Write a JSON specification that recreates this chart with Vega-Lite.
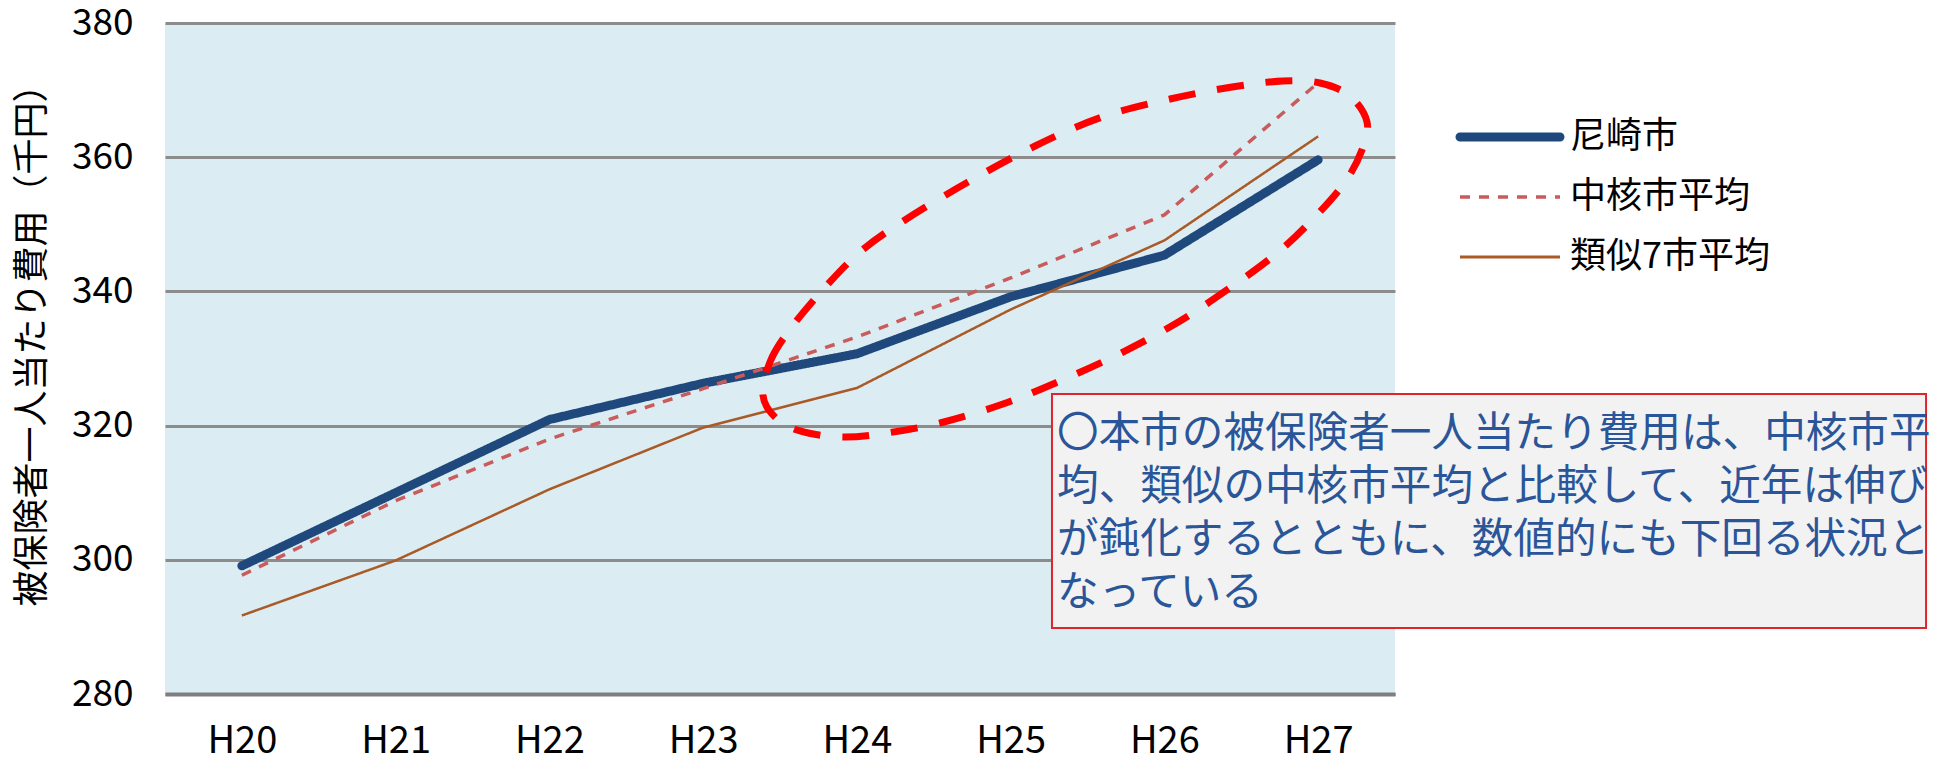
{
  "$schema": "https://vega.github.io/schema/vega-lite/v6.json",
  "width": 1230,
  "height": 671,
  "autosize": {"type": "none"},
  "padding": {"left": 165, "top": 23, "right": 549, "bottom": 68},
  "background": "white",
  "config": {
    "font": "Noto Sans CJK JP",
    "view": {"fill": "#DBEDF3", "stroke": null}
  },
  "datasets": {
    "cost": [
      {"年度": "H20", "系列": "尼崎市", "費用": 299.1},
      {"年度": "H21", "系列": "尼崎市", "費用": 310.0},
      {"年度": "H22", "系列": "尼崎市", "費用": 320.9},
      {"年度": "H23", "系列": "尼崎市", "費用": 326.3},
      {"年度": "H24", "系列": "尼崎市", "費用": 330.7},
      {"年度": "H25", "系列": "尼崎市", "費用": 339.2},
      {"年度": "H26", "系列": "尼崎市", "費用": 345.4},
      {"年度": "H27", "系列": "尼崎市", "費用": 359.6},
      {"年度": "H20", "系列": "中核市平均", "費用": 297.7},
      {"年度": "H21", "系列": "中核市平均", "費用": 308.8},
      {"年度": "H22", "系列": "中核市平均", "費用": 318.0},
      {"年度": "H23", "系列": "中核市平均", "費用": 325.5},
      {"年度": "H24", "系列": "中核市平均", "費用": 333.2},
      {"年度": "H25", "系列": "中核市平均", "費用": 342.0},
      {"年度": "H26", "系列": "中核市平均", "費用": 351.4},
      {"年度": "H27", "系列": "中核市平均", "費用": 371.1},
      {"年度": "H20", "系列": "類似7市平均", "費用": 291.7},
      {"年度": "H21", "系列": "類似7市平均", "費用": 299.9},
      {"年度": "H22", "系列": "類似7市平均", "費用": 310.5},
      {"年度": "H23", "系列": "類似7市平均", "費用": 319.7},
      {"年度": "H24", "系列": "類似7市平均", "費用": 325.6},
      {"年度": "H25", "系列": "類似7市平均", "費用": 337.3},
      {"年度": "H26", "系列": "類似7市平均", "費用": 347.6},
      {"年度": "H27", "系列": "類似7市平均", "費用": 363.1}
    ],
    "ellipse": [
      {"seq": 1, "pos": 3.389, "val": 324.56},
      {"seq": 2, "pos": 3.435, "val": 329.48},
      {"seq": 3, "pos": 3.552, "val": 333.95},
      {"seq": 4, "pos": 3.760, "val": 339.76},
      {"seq": 5, "pos": 4.020, "val": 345.87},
      {"seq": 6, "pos": 4.313, "val": 350.64},
      {"seq": 7, "pos": 4.723, "val": 356.30},
      {"seq": 8, "pos": 5.159, "val": 361.67},
      {"seq": 9, "pos": 5.594, "val": 365.99},
      {"seq": 10, "pos": 6.037, "val": 368.67},
      {"seq": 11, "pos": 6.440, "val": 370.46},
      {"seq": 12, "pos": 6.772, "val": 371.36},
      {"seq": 13, "pos": 7.012, "val": 371.06},
      {"seq": 14, "pos": 7.207, "val": 369.12},
      {"seq": 15, "pos": 7.318, "val": 365.25},
      {"seq": 16, "pos": 7.285, "val": 361.07},
      {"seq": 17, "pos": 7.175, "val": 356.30},
      {"seq": 18, "pos": 6.973, "val": 350.94},
      {"seq": 19, "pos": 6.733, "val": 345.72},
      {"seq": 20, "pos": 6.407, "val": 340.21},
      {"seq": 21, "pos": 6.069, "val": 335.14},
      {"seq": 22, "pos": 5.692, "val": 330.52},
      {"seq": 23, "pos": 5.321, "val": 326.65},
      {"seq": 24, "pos": 4.950, "val": 323.22},
      {"seq": 25, "pos": 4.541, "val": 320.39},
      {"seq": 26, "pos": 4.150, "val": 318.75},
      {"seq": 27, "pos": 3.890, "val": 318.30},
      {"seq": 28, "pos": 3.630, "val": 319.20},
      {"seq": 29, "pos": 3.467, "val": 321.28}
    ]
  },
  "layer": [
    {
      "data": {"name": "cost"},
      "transform": [{"filter": "datum['系列'] === '尼崎市'"}],
      "mark": {"type": "line", "strokeWidth": 9, "strokeCap": "round", "strokeJoin": "round"},
      "encoding": {
        "x": {
          "field": "年度",
          "type": "ordinal",
          "scale": {"type": "point", "padding": 0.5},
          "axis": {
            "title": null,
            "labelAngle": 0,
            "labelFontSize": 38,
            "labelColor": "#000000",
            "labelPadding": 47,
            "labelBaseline": "middle",
            "ticks": false,
            "tickSize": 0,
            "domain": true,
            "domainColor": "#7F7F7F",
            "domainWidth": 4,
            "grid": false
          }
        },
        "y": {
          "field": "費用",
          "type": "quantitative",
          "scale": {"domain": [280, 380]},
          "axis": {
            "values": [280, 300, 320, 340, 360, 380],
            "title": "被保険者一人当たり費用（千円）",
            "titleFontSize": 36,
            "titleFontWeight": "normal",
            "titleColor": "#000000",
            "titleX": -133,
            "titleY": 313,
            "titleAngle": -90,
            "titleAlign": "center",
            "titleBaseline": "middle",
            "labelFontSize": 37,
            "labelColor": "#000000",
            "labelPadding": 32,
            "ticks": false,
            "tickSize": 0,
            "domain": false,
            "grid": true,
            "gridColor": "#8C8C8C",
            "gridWidth": 3
          }
        },
        "color": {
          "field": "系列",
          "type": "nominal",
          "scale": {"domain": ["尼崎市", "中核市平均", "類似7市平均"], "range": ["#1F497D", "#C95B5B", "#A95A26"]},
          "legend": {
            "title": null,
            "orient": "none",
            "legendX": 1327,
            "legendY": 96,
            "padding": 0,
            "symbolType": "M-5,0H5",
            "symbolSize": 400,
            "labelFontSize": 36,
            "labelColor": "#000000",
            "labelOffset": 42,
            "labelLimit": 400,
            "rowPadding": 24,
            "encode": {
              "symbols": {
                "update": {
                  "fill": {"value": "transparent"},
                  "strokeWidth": {"signal": "datum.value === '尼崎市' ? 9 : datum.value === '中核市平均' ? 3.5 : 3"},
                  "strokeCap": {"signal": "datum.value === '尼崎市' ? 'round' : 'butt'"}
                }
              }
            }
          }
        },
        "strokeDash": {
          "field": "系列",
          "type": "nominal",
          "scale": {"domain": ["尼崎市", "中核市平均", "類似7市平均"], "range": [[1, 0], [10, 9], [1, 0]]},
          "legend": {
            "title": null,
            "orient": "none",
            "legendX": 1327,
            "legendY": 96,
            "padding": 0,
            "symbolType": "M-5,0H5",
            "symbolSize": 400,
            "labelFontSize": 36,
            "labelColor": "#000000",
            "labelOffset": 42,
            "labelLimit": 400,
            "rowPadding": 24,
            "encode": {
              "symbols": {
                "update": {
                  "fill": {"value": "transparent"},
                  "strokeWidth": {"signal": "datum.value === '尼崎市' ? 9 : datum.value === '中核市平均' ? 3.5 : 3"},
                  "strokeCap": {"signal": "datum.value === '尼崎市' ? 'round' : 'butt'"}
                }
              }
            }
          }
        }
      }
    },
    {
      "data": {"name": "cost"},
      "transform": [{"filter": "datum['系列'] === '中核市平均'"}],
      "mark": {"type": "line", "strokeWidth": 3.5},
      "encoding": {
        "x": {"field": "年度", "type": "ordinal", "scale": {"type": "point", "padding": 0.5}, "axis": null},
        "y": {"field": "費用", "type": "quantitative", "scale": {"domain": [280, 380]}},
        "color": {"field": "系列", "type": "nominal", "scale": {"domain": ["尼崎市", "中核市平均", "類似7市平均"], "range": ["#1F497D", "#C95B5B", "#A95A26"]}},
        "strokeDash": {"field": "系列", "type": "nominal", "scale": {"domain": ["尼崎市", "中核市平均", "類似7市平均"], "range": [[1, 0], [12, 8], [1, 0]]}}
      }
    },
    {
      "data": {"name": "cost"},
      "transform": [{"filter": "datum['系列'] === '類似7市平均'"}],
      "mark": {"type": "line", "strokeWidth": 2.5},
      "encoding": {
        "x": {"field": "年度", "type": "ordinal", "scale": {"type": "point", "padding": 0.5}, "axis": null},
        "y": {"field": "費用", "type": "quantitative", "scale": {"domain": [280, 380]}},
        "color": {"field": "系列", "type": "nominal", "scale": {"domain": ["尼崎市", "中核市平均", "類似7市平均"], "range": ["#1F497D", "#C95B5B", "#A95A26"]}},
        "strokeDash": {"field": "系列", "type": "nominal", "scale": {"domain": ["尼崎市", "中核市平均", "類似7市平均"], "range": [[1, 0], [12, 8], [1, 0]]}}
      }
    },
    {
      "data": {"name": "ellipse"},
      "mark": {"type": "line", "interpolate": "cardinal-closed", "stroke": "#FF0000", "strokeWidth": 7, "strokeDash": [27, 22]},
      "encoding": {
        "x": {"field": "pos", "type": "quantitative", "scale": {"domain": [-0.5, 7.5]}, "axis": null},
        "y": {"field": "val", "type": "quantitative", "scale": {"domain": [280, 380]}},
        "order": {"field": "seq", "type": "quantitative"}
      }
    },
    {
      "data": {"values": [{}]},
      "mark": {"type": "rect", "fill": "#F2F2F2", "stroke": "#E0242A", "strokeWidth": 2},
      "encoding": {
        "x": {"datum": 5.269, "type": "quantitative", "scale": {"domain": [-0.5, 7.5]}, "axis": null},
        "x2": {"datum": 10.954},
        "y": {"datum": 324.7, "type": "quantitative", "scale": {"domain": [280, 380]}},
        "y2": {"datum": 289.84}
      }
    },
    {
      "data": {"values": [{}]},
      "mark": {
        "type": "text",
        "text": [
          "〇本市の被保険者一人当たり費用は、中核市平",
          "均、類似の中核市平均と比較して、近年は伸び",
          "が鈍化するとともに、数値的にも下回る状況と",
          "なっている"
        ],
        "align": "left",
        "baseline": "alphabetic",
        "fontSize": 41.6,
        "lineHeight": 53,
        "fill": "#2A5699"
      },
      "encoding": {
        "x": {"datum": 5.302, "type": "quantitative", "scale": {"domain": [-0.5, 7.5]}, "axis": null},
        "y": {"datum": 316.8, "type": "quantitative", "scale": {"domain": [280, 380]}}
      }
    }
  ],
  "resolve": {"scale": {"x": "independent"}, "axis": {"x": "independent"}}
}
